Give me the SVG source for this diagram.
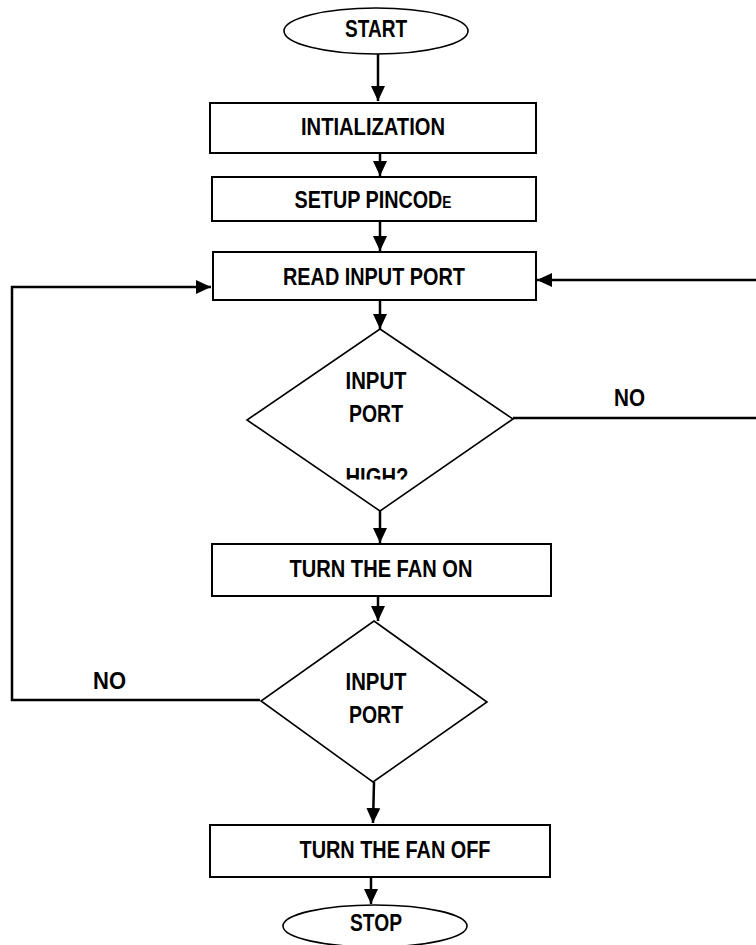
<svg xmlns="http://www.w3.org/2000/svg" width="756" height="945" viewBox="0 0 756 945">
<style>
  .box { fill: #fff; stroke: #000; stroke-width: 2; }
  .dia { fill: #fff; stroke: #000; stroke-width: 1.6; }
  .term { fill: #fff; stroke: #000; stroke-width: 1.6; }
  .lbl { font-family: "Liberation Sans", Arial, sans-serif; font-weight: bold; font-size: 23px; fill: #000; text-anchor: middle; }
  .con { fill: none; stroke: #000; stroke-width: 2.5; }
</style>
<defs>
  <marker id="ah" markerUnits="userSpaceOnUse" markerWidth="16" markerHeight="15" refX="15" refY="7" orient="auto">
    <path d="M0,0 L15,7 L0,14 z" fill="#000"/>
  </marker>
  <clipPath id="clipHigh"><rect x="300" y="440" width="160" height="39.5"/></clipPath>
</defs>
<rect width="756" height="945" fill="#fff"/>

<g id="connectors">
  <line class="con" x1="378" y1="54" x2="378" y2="101" marker-end="url(#ah)"/>
  <line class="con" x1="380" y1="153" x2="380" y2="176" marker-end="url(#ah)"/>
  <line class="con" x1="380" y1="221" x2="380" y2="251" marker-end="url(#ah)"/>
  <line class="con" x1="380" y1="300" x2="380" y2="329" marker-end="url(#ah)"/>
  <line class="con" x1="380" y1="511" x2="380" y2="543" marker-end="url(#ah)"/>
  <line class="con" x1="378" y1="596" x2="378" y2="621" marker-end="url(#ah)"/>
  <line class="con" x1="374" y1="782" x2="373" y2="823" marker-end="url(#ah)"/>
  <line class="con" x1="371" y1="877" x2="371" y2="904" marker-end="url(#ah)"/>
  <polyline class="con" points="260,700 12,700 12,287 211,287" marker-end="url(#ah)"/>
  <line class="con" x1="513" y1="418" x2="756" y2="418"/>
  <line class="con" x1="756" y1="280" x2="537" y2="280" marker-end="url(#ah)"/>
  <text class="lbl" x="629.5" y="406" textLength="31" lengthAdjust="spacingAndGlyphs">NO</text>
  <text class="lbl" x="109.5" y="689" textLength="33" lengthAdjust="spacingAndGlyphs">NO</text>
</g>

<g id="start">
  <ellipse class="term" cx="376" cy="31" rx="92" ry="23"/>
  <text class="lbl" x="376" y="37" textLength="62" lengthAdjust="spacingAndGlyphs">START</text>
</g>

<g id="init">
  <rect class="box" x="210" y="103" width="326" height="50"/>
  <text class="lbl" x="373" y="135" textLength="144" lengthAdjust="spacingAndGlyphs">INTIALIZATION</text>
</g>

<g id="setup">
  <rect class="box" x="212" y="177" width="324" height="44"/>
  <text class="lbl" x="373" y="208" textLength="157" lengthAdjust="spacingAndGlyphs">SETUP PINCOD<tspan font-size="16px">E</tspan></text>
</g>

<g id="read">
  <rect class="box" x="213" y="252" width="323" height="48"/>
  <text class="lbl" x="374" y="285" textLength="182" lengthAdjust="spacingAndGlyphs">READ INPUT PORT</text>
</g>

<g id="decision1">
  <polygon class="dia" points="380,329 513,419 380,511 247,420"/>
  <text class="lbl" x="376" y="389" textLength="61" lengthAdjust="spacingAndGlyphs">INPUT</text>
  <text class="lbl" x="376" y="422" textLength="54" lengthAdjust="spacingAndGlyphs">PORT</text>
  <text class="lbl" x="377" y="485" textLength="63" lengthAdjust="spacingAndGlyphs" clip-path="url(#clipHigh)">HIGH?</text>
</g>

<g id="fanon">
  <rect class="box" x="212" y="544" width="339" height="52"/>
  <text class="lbl" x="381" y="577" textLength="183" lengthAdjust="spacingAndGlyphs">TURN THE FAN ON</text>
</g>

<g id="decision2">
  <polygon class="dia" points="374,621 487,702 373,782 261,701"/>
  <text class="lbl" x="376" y="690" textLength="61" lengthAdjust="spacingAndGlyphs">INPUT</text>
  <text class="lbl" x="376" y="723" textLength="54" lengthAdjust="spacingAndGlyphs">PORT</text>
</g>

<g id="fanoff">
  <rect class="box" x="210" y="825" width="340" height="52"/>
  <text class="lbl" x="395" y="858" textLength="191" lengthAdjust="spacingAndGlyphs">TURN THE FAN OFF</text>
</g>

<g id="stop">
  <ellipse class="term" cx="375" cy="926" rx="92" ry="21"/>
  <text class="lbl" x="376" y="931" textLength="52" lengthAdjust="spacingAndGlyphs">STOP</text>
</g>
</svg>
